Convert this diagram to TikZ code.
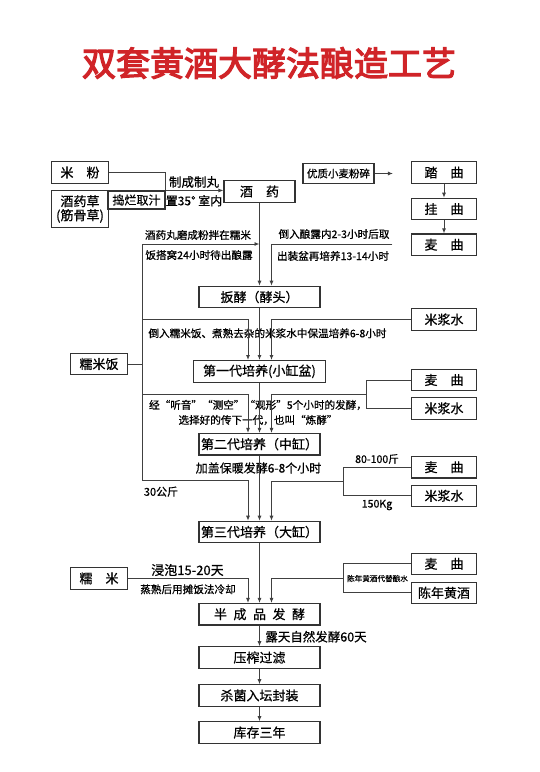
\documentclass[tikz,border=0pt]{standalone}
\usepackage{fontspec}
\setmainfont{Noto Sans CJK SC}[FakeBold=0.6]
\newfontfamily\titlefont[FakeBold=3.5]{Noto Sans CJK SC}
\usetikzlibrary{arrows.meta}
\definecolor{titlered}{RGB}{208,36,40}

\begin{document}
\begin{tikzpicture}[x=1pt, y=-1pt,
  box/.style={draw=black!80, line width=1.1pt, inner sep=0pt, minimum height=21.5pt, font=\fontsize{13}{15}\selectfont},
  note/.style={inner sep=0pt, font=\fontsize{10.6}{12}\selectfont},
  wire/.style={draw=black!75, line width=0.9pt},
  >={Latex[length=5pt,width=4pt]}]
\useasboundingbox (0,0) rectangle (540,772);
\fill[white] (0,0) rectangle (540,772);
\node[font=\titlefont\fontsize{34}{36}\selectfont, text=titlered] (title) at (269,63) {双套黄酒大酵法酿造工艺};

\node[box, minimum width=56.5pt] (mifen) at (80,172.5) {米　粉};
\node[box, minimum width=56.5pt, minimum height=36.5pt, align=center, font=\fontsize{13}{14}\selectfont] (caoyao) at (80,209) {酒药草\\(筋骨草)};
\node[box, minimum width=57pt, minimum height=18pt, font=\fontsize{12}{14}\selectfont] (daolan) at (136.5,200) {捣烂取汁};
\node[box, minimum width=71pt] (jiuyao) at (259.5,191.5) {酒　药};
\node[box, minimum width=71pt, minimum height=19.5pt, font=\fontsize{10.5}{12}\selectfont] (youzhi) at (338.5,173.5) {优质小麦粉碎};
\node[box, minimum width=65pt] (taqu) at (444,172.5) {踏　曲};
\node[box, minimum width=65pt] (guaqu) at (444,209) {挂　曲};
\node[box, minimum width=65pt] (maiqua) at (444,244.7) {麦　曲};
\node[box, minimum width=121pt] (banjiao) at (259.5,297) {扳酵（酵头）};
\node[box, minimum width=64.5pt] (mijianga) at (444,319.5) {米浆水};
\node[box, minimum width=56.5pt] (nuomifan) at (99,364) {糯米饭};
\node[box, minimum width=132pt] (gena) at (259.5,371.3) {第一代培养(小缸盆)};
\node[box, minimum width=64.5pt] (maiqub) at (444,380) {麦　曲};
\node[box, minimum width=64.5pt] (mijiangb) at (444,408.3) {米浆水};
\node[box, minimum width=121pt] (genb) at (259.5,444.2) {第二代培养（中缸）};
\node[box, minimum width=64.5pt] (maiquc) at (444,467.2) {麦　曲};
\node[box, minimum width=64.5pt] (mijiangc) at (444,495.8) {米浆水};
\node[box, minimum width=121pt] (genc) at (259.5,532) {第三代培养（大缸）};
\node[box, minimum width=56.5pt] (nuomi) at (99,578.3) {糯　米};
\node[box, minimum width=64.5pt] (maiqud) at (444,563.8) {麦　曲};
\node[box, minimum width=64.5pt] (chennian) at (444,592.8) {陈年黄酒};
\node[box, minimum width=121pt] (banchengpin) at (259.5,614.2) {半\hspace{0.5em}成\hspace{0.5em}品\hspace{0.5em}发\hspace{0.5em}酵};
\node[box, minimum width=121pt] (yazha) at (259.5,657.5) {压榨过滤};
\node[box, minimum width=121pt] (shajun) at (259.5,695.5) {杀菌入坛封装};
\node[box, minimum width=121pt] (kucun) at (259.5,732.5) {库存三年};

\node[note, font=\fontsize{12.5}{14}\selectfont] (zhiwan) at (194,182) {制成制丸};
\node[note, font=\fontsize{12}{14}\selectfont] (zhisan) at (194,200.7) {置35°\ 室内};
\node[note] (fenban) at (198,235) {酒药丸磨成粉拌在糯米};
\node[note] (dawo) at (199,255) {饭搭窝24小时待出酿露};
\node[note] (daoru) at (334,234) {倒入酿露内2-3小时后取};
\node[note] (chuzhuang) at (333,256) {出装盆再培养13-14小时};
\node[note] (baowen) at (267.5,333.3) {倒入糯米饭、煮熟去杂的米浆水中保温培养6-8小时};
\node[note, align=center, font=\fontsize{10.6}{15}\selectfont] (lianjiao) at (258,412.5) {经“听音”“测空”“观形”5个小时的发酵，\\选择好的传下一代，也叫“炼酵”};
\node[note, font=\fontsize{12}{14}\selectfont] (jiagai) at (258.5,468) {加盖保暖发酵6-8个小时};
\node[note] (jinba) at (377,459) {80-100斤};
\node[note] (kgyi) at (377,505) {150Kg};
\node[note, font=\fontsize{11}{13}\selectfont] (gongjin) at (161,491.7) {30公斤};
\node[note, font=\fontsize{13}{15}\selectfont] (jinpao) at (187.5,570) {浸泡15-20天};
\node[note] (zhengshu) at (188,589.3) {蒸熟后用摊饭法冷却};
\node[note, font=\fontsize{7.6}{9}\selectfont] (daiti) at (377.5,578.5) {陈年黄酒代替酿水};
\node[note, font=\fontsize{12.5}{14}\selectfont] (lutian) at (316,636.7) {露天自然发酵60天};

\coordinate (spa) at (142,244);
\coordinate (spb) at (142,319.3);
\coordinate (spc) at (142,394);
\coordinate (spd) at (142,480.7);
\coordinate (brb) at (366.7,394);
\coordinate (brc) at (343.3,481.5);
\coordinate (brd) at (343.3,578.3);

\draw[wire] (mifen.east) -| (daolan.north east);
\draw[wire,->] (daolan.north east) -- (daolan.north east -| jiuyao.west);
\draw[wire,->,shorten >=18pt] (youzhi.east) -- (youzhi.east -| taqu.west);
\draw[wire,->] (taqu) -- (guaqu);
\draw[wire,->] (guaqu) -- (maiqua);
\draw[wire,->] (jiuyao) -- (banjiao);
\draw[wire] (spa) -- (spd);
\draw[wire] (nuomifan.east) -- (nuomifan.east -| spa);
\draw[wire,->] (spa) -- (spa -| jiuyao.south);
\draw[wire,->] (spb) -| ([xshift=-11.5pt]gena.north);
\draw[wire,->] (spc) -| ([xshift=-11.5pt]genb.north);
\draw[wire,->] (spd) -| ([xshift=-11.5pt]genc.north);
\draw[wire,->,shorten <=18.5pt] (maiqua.west) -| ([xshift=12pt]banjiao.north);
\draw[wire,->] (mijianga.west) -| ([xshift=12pt]gena.north);
\draw[wire] (maiqub.west) -| (brb) |- (mijiangb.west);
\draw[wire,->] (brb) -| ([xshift=12pt]genb.north);
\draw[wire] (maiquc.west) -| (brc) |- (mijiangc.west);
\draw[wire,->] (brc) -| ([xshift=12pt]genc.north);
\draw[wire] (maiqud.west) -| (brd) |- (chennian.west);
\draw[wire,->] (brd) -| ([xshift=12pt]banchengpin.north);
\draw[wire,->] (nuomi.east) -| ([xshift=-11.5pt]banchengpin.north);
\foreach \a/\b in {banjiao/gena, gena/genb, genb/genc, genc/banchengpin, banchengpin/yazha, yazha/shajun, shajun/kucun}
  \draw[wire,->] (\a) -- (\b);
\end{tikzpicture}
\end{document}
